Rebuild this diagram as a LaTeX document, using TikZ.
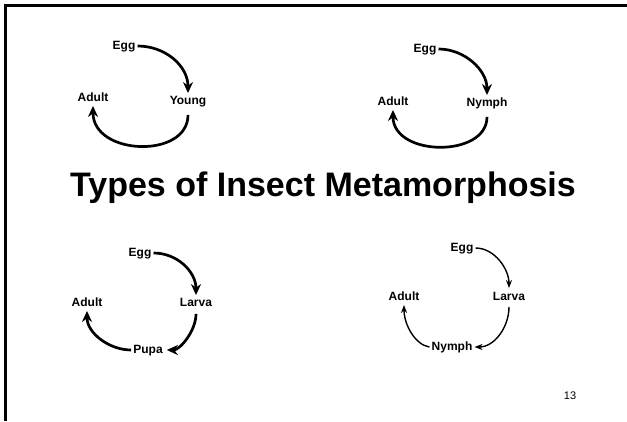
\documentclass[tikz,border=0pt]{standalone}
\usepackage{fontspec}
\setmainfont{Liberation Sans}
\usetikzlibrary{arrows.meta}
\begin{document}
\begin{tikzpicture}[x=1pt,y=-1pt,
  lbl/.style={font=\bfseries\fontsize{12}{14}\selectfont, inner sep=2pt, text height=9pt, text depth=2.5pt},
  thick arrow/.style={line width=2.7pt, -{Stealth[length=11pt,width=10pt]}},
  thin arrow/.style={line width=1.4pt, -{Stealth[length=8pt,width=6pt]}}]
\useasboundingbox (0,0) rectangle (627,421);
% frame
\coordinate (fa) at (627,5.5);
\coordinate (fb) at (5.5,5.5);
\coordinate (fc) at (5.5,421);
\draw[line width=2.6pt] (fa) -- (fb) -- (fc);

% panel 1
\node[lbl] (e1) at (124,46) {Egg};
\node[lbl] (y1) at (188,101) {Young};
\node[lbl] (a1) at (93,98) {Adult};
\draw[thick arrow] (e1.east) .. controls +(28,0) and +(0,-27) .. (y1.north);
\draw[thick arrow, shorten <=6pt] (y1.south) .. controls +(0,50) and +(0,50) .. (a1.south);

% panel 2
\node[lbl] (e2) at (425,49) {Egg};
\node[lbl] (n2) at (487,103) {Nymph};
\node[lbl] (a2) at (393,102) {Adult};
\draw[thick arrow] (e2.east) .. controls +(26,0) and +(0,-25) .. (n2.north);
\draw[thick arrow, shorten <=6pt] (n2.south) .. controls +(0,47) and +(0,47) .. (a2.south);

% title
\node[font=\bfseries\fontsize{34}{40}\selectfont, anchor=base, inner sep=0pt] (title) at (323,196) {Types of Insect Metamorphosis};

% panel 3
\node[lbl] (e3) at (140,253) {Egg};
\node[lbl] (l3) at (196,303) {Larva};
\node[lbl] (a3) at (87,303) {Adult};
\node[lbl] (p3) at (148,350) {Pupa};
\draw[thick arrow] (e3.east) .. controls +(24,0) and +(0,-23) .. (l3.north);
\draw[thick arrow, shorten <=3pt, shorten >=2pt] (l3.south) .. controls +(0,20) and +(15,0) .. (p3.east);
\draw[thick arrow] (p3.west) .. controls +(-22,0) and +(0,22) .. (a3.south);

% panel 4
\node[lbl] (e4) at (462,248) {Egg};
\node[lbl] (l4) at (509,297) {Larva};
\node[lbl] (a4) at (404,297) {Adult};
\node[lbl] (n4) at (452,347) {Nymph};
\draw[thin arrow, shorten >=1pt] (e4.east) .. controls +(19,0) and +(0,-20) .. (l4.north);
\draw[thin arrow, shorten <=2pt] (l4.south) .. controls +(0,22) and +(20,0) .. (n4.east);
\draw[thin arrow] (n4.west) .. controls +(-14,-2) and +(0,20) .. (a4.south);

% page number
\node[font=\fontsize{11}{13}\selectfont, inner sep=0pt] (pg) at (570,396) {13};
\end{tikzpicture}
\end{document}
